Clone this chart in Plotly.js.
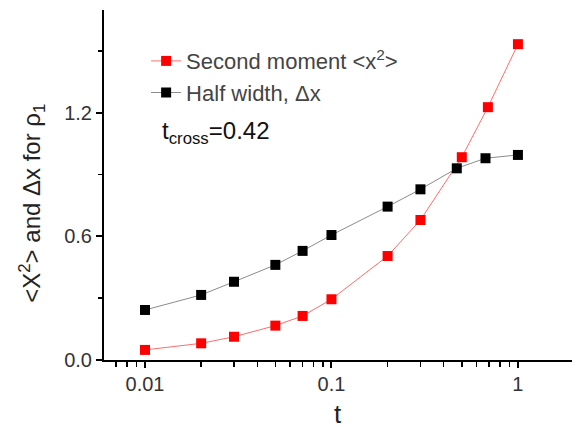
<!DOCTYPE html>
<html>
<head>
<meta charset="utf-8">
<script src="https://cdn.plot.ly/plotly-3.0.1.min.js"></script>
<style>
  html, body { margin: 0; padding: 0; background: #fff; }
  #chart { width: 572px; height: 430px; }
</style>
</head>
<body>
<div id="chart"></div>
<script>
// Second moment <x^2> versus time t
const tSecond = [0.01, 0.02, 0.03, 0.05, 0.07, 0.1, 0.2, 0.3, 0.5, 0.69, 1];
const secondMoment = [0.049, 0.081, 0.113, 0.167, 0.214, 0.295, 0.505, 0.68, 0.985, 1.228, 1.534];

// Half width Δx versus time t
const tHalf = [0.01, 0.02, 0.03, 0.05, 0.07, 0.1, 0.2, 0.3, 0.47, 0.67, 1];
const halfWidth = [0.243, 0.316, 0.38, 0.462, 0.53, 0.607, 0.745, 0.829, 0.931, 0.98, 0.996];

const seriesNames = ['Second moment &lt;x<sup>2</sup>&gt;', 'Half width, Δx'];

// log-axis tick positions
const tMajorTicks = [0.01, 0.1, 1];
const tMajorLabels = ['0.01', '0.1', '1'];
const tMinorTicks = [0.007, 0.008, 0.009,
                     0.02, 0.03, 0.04, 0.05, 0.06, 0.07, 0.08, 0.09,
                     0.2, 0.3, 0.4, 0.5, 0.6, 0.7, 0.8, 0.9];

const FONT = 'Liberation Sans, Arial, Helvetica, sans-serif';
const T_RANGE = [-2.22, 0.29];

// every tick on the main t axis; only the decades get a label
const tAllTicks = tMajorTicks.concat(tMinorTicks);
const tAllLabels = tMajorLabels.concat(tMinorTicks.map(() => ' '));

const traces = [
  {
    x: tSecond, y: secondMoment, name: seriesNames[0],
    type: 'scatter', mode: 'lines+markers',
    line: { color: 'rgb(255,110,110)', width: 1 },
    marker: { symbol: 'square', size: 10, color: 'rgb(255,0,0)' }
  },
  {
    x: tHalf, y: halfWidth, name: seriesNames[1],
    xaxis: 'x2',
    type: 'scatter', mode: 'lines+markers',
    line: { color: 'rgb(140,140,140)', width: 1 },
    marker: { symbol: 'square', size: 10, color: 'rgb(0,0,0)' }
  }
];

const layout = {
  width: 572, height: 430,
  margin: { l: 104, r: 0, t: 10, b: 70 },
  paper_bgcolor: '#fff', plot_bgcolor: '#fff',
  font: { family: FONT, size: 20, color: '#333' },
  showlegend: true,
  legend: {
    x: 0.09, y: 0.914, xanchor: 'left', yanchor: 'top',
    bgcolor: 'rgba(0,0,0,0)', borderwidth: 0,
    font: { family: FONT, size: 22, color: '#444' },
    tracegroupgap: 0
  },
  xaxis: {
    type: 'log',
    range: T_RANGE,
    tickmode: 'array',
    tickvals: tAllTicks,
    ticktext: tAllLabels,
    ticks: 'outside', ticklen: 5, tickwidth: 1.5, tickcolor: '#000',
    showline: true, linecolor: '#000', linewidth: 2,
    showgrid: false, zeroline: false,
    tickfont: { family: FONT, size: 20, color: '#333' }
  },
  // same log scale, carries the longer decade ticks
  xaxis2: {
    type: 'log',
    overlaying: 'x',
    anchor: 'y',
    side: 'bottom',
    range: T_RANGE,
    tickmode: 'array',
    tickvals: tMajorTicks,
    ticks: 'outside', ticklen: 7, tickwidth: 2, tickcolor: '#000',
    showticklabels: false,
    showline: false, showgrid: false, zeroline: false
  },
  yaxis: {
    range: [0, 1.70],
    tick0: 0, dtick: 0.6,
    tickformat: '.1f',
    ticks: 'outside', ticklen: 6, tickwidth: 2, tickcolor: '#000',
    minor: { ticks: 'outside', ticklen: 4, tickwidth: 1.5, tickcolor: '#000', dtick: 0.3 },
    showline: true, linecolor: '#000', linewidth: 2,
    showgrid: false, zeroline: false,
    tickfont: { family: FONT, size: 20, color: '#333' }
  },
  annotations: [
    {
      // vertical axis label
      xref: 'paper', yref: 'paper',
      x: -0.154, y: 0.449, xanchor: 'center', yanchor: 'middle',
      textangle: -90,
      text: '&lt;X<sup>2</sup>&gt; and Δx for ρ<sub>1</sub>',
      showarrow: false,
      font: { family: FONT, size: 24, color: '#222' }
    },
    {
      // horizontal axis label
      xref: 'paper', yref: 'paper',
      x: 0.5, y: -0.155, xanchor: 'center', yanchor: 'middle',
      text: 't',
      showarrow: false,
      font: { family: FONT, size: 26, color: '#222' }
    },
    {
      xref: 'paper', yref: 'paper',
      x: 0.12, y: 0.65, xanchor: 'left', yanchor: 'middle',
      text: 't<sub>cross</sub>=0.42',
      showarrow: false,
      font: { family: FONT, size: 24, color: '#111' }
    }
  ]
};

Plotly.newPlot('chart', traces, layout, { displayModeBar: false, staticPlot: true });
</script>
</body>
</html>
